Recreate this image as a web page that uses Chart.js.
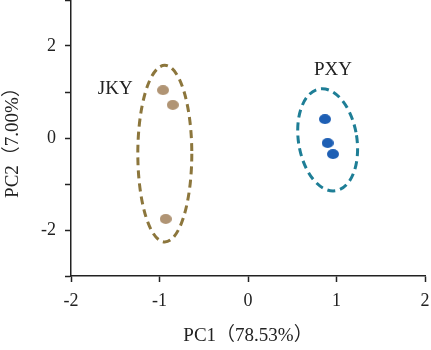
<!DOCTYPE html>
<html><head><meta charset="utf-8">
<script src="https://cdn.jsdelivr.net/npm/chart.js@4"></script>
<style>html,body{margin:0;padding:0;background:#fff}#wrap{width:431px;height:350px}</style>
</head><body><div id="wrap"><canvas id="c" width="431" height="350"></canvas></div>
<script>
// ---- data ----
const groups = ['JKY', 'PXY'];
const jkyPC1 = [-0.96, -0.85, -0.93];
const jkyPC2 = [1.04, 0.72, -1.76];
const pxyPC1 = [0.87, 0.90, 0.96];
const pxyPC2 = [0.41, -0.11, -0.35];
const xTickValues = [-2, -1, 0, 1, 2];
const yLabelledTicks = [-2, 0, 2];
// confidence ellipses (data units)
const ellipseCenterX = [-0.94, 0.90];
const ellipseCenterY = [-0.34, -0.04];
const ellipseRadiusX = [0.305, 0.33];
const ellipseRadiusY = [1.92, 1.12];
const ellipseTiltDeg = [0, -9];
// group label anchors (data units)
const labelX = [-1.50, 0.96];
const labelY = [1.07, 1.48];

const pointColors = ['#B09474', '#1E5FB4'];
const ellipseColors = ['#8C763C', '#1E7E96'];
const FONT = '"Liberation Serif", "Times New Roman", "Noto Sans CJK SC", serif';
const INK = '#222';

function makeDot(color) {
  const c = document.createElement('canvas');
  c.width = 12; c.height = 10;
  const g = c.getContext('2d');
  g.fillStyle = color;
  g.beginPath();
  g.ellipse(6, 5, 6, 5, 0, 0, Math.PI * 2);
  g.fill();
  return c;
}

const toPts = (xs, ys) => xs.map((x, i) => ({ x, y: ys[i] }));

const overlay = {
  id: 'overlay',
  afterDatasetsDraw(chart) {
    const { ctx, scales: { x, y } } = chart;
    ctx.save();
    for (let i = 0; i < groups.length; i++) {
      const cx = x.getPixelForValue(ellipseCenterX[i]);
      const cy = y.getPixelForValue(ellipseCenterY[i]);
      const rx = Math.abs(x.getPixelForValue(ellipseCenterX[i] + ellipseRadiusX[i]) - cx);
      const ry = Math.abs(y.getPixelForValue(ellipseCenterY[i] + ellipseRadiusY[i]) - cy);
      ctx.beginPath();
      ctx.setLineDash([8, 5]);
      ctx.lineWidth = 3;
      ctx.strokeStyle = ellipseColors[i];
      ctx.ellipse(cx, cy, rx, ry, ellipseTiltDeg[i] * Math.PI / 180, 0, Math.PI * 2);
      ctx.stroke();
    }
    ctx.setLineDash([]);
    ctx.fillStyle = INK;
    ctx.font = '19px ' + FONT;
    ctx.textAlign = 'center';
    ctx.textBaseline = 'middle';
    for (let i = 0; i < groups.length; i++) {
      ctx.fillText(groups[i], x.getPixelForValue(labelX[i]), y.getPixelForValue(labelY[i]));
    }
    ctx.restore();
  }
};

new Chart(document.getElementById('c'), {
  type: 'scatter',
  data: {
    datasets: [
      { label: groups[0], data: toPts(jkyPC1, jkyPC2), pointStyle: makeDot(pointColors[0]), backgroundColor: pointColors[0] },
      { label: groups[1], data: toPts(pxyPC1, pxyPC2), pointStyle: makeDot(pointColors[1]), backgroundColor: pointColors[1] }
    ]
  },
  options: {
    responsive: false,
    animation: false,
    devicePixelRatio: 1,
    layout: { autoPadding: false, padding: { top: 0, right: 6, left: 0, bottom: 0 } },
    plugins: { legend: { display: false }, tooltip: { enabled: false } },
    scales: {
      x: {
        type: 'linear', min: xTickValues[0], max: xTickValues[xTickValues.length - 1],
        afterBuildTicks: s => { s.ticks = xTickValues.map(v => ({ value: v })); },
        afterFit: s => { s.height = 74; s.paddingLeft = 0; s.paddingRight = 0; },
        ticks: { color: INK, font: { family: FONT, size: 18 }, padding: 8, maxRotation: 0 },
        grid: { drawOnChartArea: false, drawTicks: true, tickLength: 6, tickColor: INK, tickWidth: 1.5 },
        border: { display: true, color: INK, width: 1.5 },
        title: { display: true, text: 'PC1（78.53%）', color: INK, font: { family: FONT, size: 19 }, padding: { top: 4, bottom: 3 } }
      },
      y: {
        type: 'linear', min: -3, max: 3,
        afterFit: s => { s.width = 71; s.paddingTop = 0; s.paddingBottom = 0; },
        ticks: { stepSize: 1, color: INK, font: { family: FONT, size: 18 }, padding: 9,
          callback: v => (yLabelledTicks.includes(v) ? String(v) : '') },
        grid: { drawOnChartArea: false, drawTicks: true, tickLength: 6, tickColor: INK, tickWidth: 1.5 },
        border: { display: true, color: INK, width: 1.5 },
        title: { display: true, text: 'PC2（7.00%）', color: INK, font: { family: FONT, size: 19 }, padding: { top: 2, bottom: 0 } }
      }
    }
  },
  plugins: [overlay]
});
</script></body></html>
